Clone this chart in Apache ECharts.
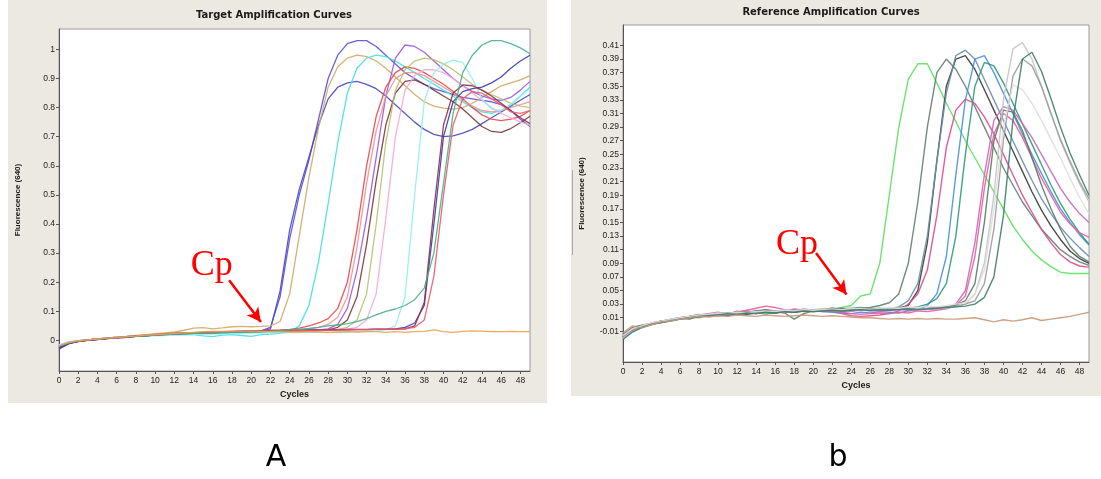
<!DOCTYPE html>
<html>
<head>
<meta charset="utf-8">
<script src="https://cdn.jsdelivr.net/npm/echarts@6/dist/echarts.min.js"></script>
<style>
html,body{margin:0;padding:0;background:#fff;}
#main{width:1101px;height:479px;}
</style>
</head>
<body>
<div id="main"></div>
<script>
// ---------- DATA ----------
const cycles = [0,1,2,3,4,5,6,7,8,9,10,11,12,13,14,15,16,17,18,19,20,21,22,23,24,25,26,27,28,29,30,31,32,33,34,35,36,37,38,39,40,41,42,43,44,45,46,47,48,49];
const xTicks = [0,2,4,6,8,10,12,14,16,18,20,22,24,26,28,30,32,34,36,38,40,42,44,46,48];
const targetTicks = [0,0.1,0.2,0.3,0.4,0.5,0.6,0.7,0.8,0.9,1];
const refTicks = [-0.01,0.01,0.03,0.05,0.07,0.09,0.11,0.13,0.15,0.17,0.19,0.21,0.23,0.25,0.27,0.29,0.31,0.33,0.35,0.37,0.39,0.41];

// Target amplification curves (fluorescence per cycle)
const L1 = [-0.025,-0.010,-0.003,0.001,0.004,0.007,0.010,0.013,0.015,0.017,
0.020,0.022,0.023,0.025,0.026,0.027,0.028,0.029,0.030,0.031,
0.032,0.033,0.045,0.150,0.350,0.500,0.620,0.760,0.900,0.980,
1.020,1.030,1.030,1.010,0.980,0.950,0.920,0.900,0.880,0.865,
0.855,0.845,0.835,0.830,0.825,0.820,0.810,0.790,0.760,0.735];
const L2 = [-0.030,-0.012,-0.004,0.000,0.003,0.006,0.009,0.011,0.014,0.016,
0.018,0.020,0.022,0.024,0.025,0.026,0.027,0.028,0.029,0.030,
0.031,0.032,0.040,0.170,0.380,0.520,0.630,0.740,0.830,0.870,
0.885,0.890,0.880,0.865,0.840,0.810,0.780,0.750,0.725,0.708,
0.700,0.703,0.712,0.725,0.745,0.765,0.785,0.805,0.825,0.845];
const L3 = [-0.020,-0.008,-0.002,0.002,0.005,0.008,0.011,0.014,0.017,0.020,
0.023,0.026,0.029,0.035,0.042,0.044,0.040,0.043,0.047,0.048,
0.047,0.048,0.050,0.065,0.160,0.360,0.560,0.730,0.870,0.940,
0.970,0.980,0.975,0.960,0.935,0.905,0.875,0.845,0.820,0.805,
0.798,0.795,0.800,0.815,0.835,0.855,0.875,0.885,0.895,0.910];
const L4 = [-0.015,-0.006,-0.001,0.002,0.005,0.008,0.010,0.012,0.014,0.016,
0.018,0.019,0.020,0.021,0.020,0.016,0.013,0.018,0.020,0.017,
0.014,0.020,0.022,0.024,0.030,0.050,0.120,0.270,0.470,0.680,
0.850,0.935,0.970,0.980,0.975,0.960,0.940,0.920,0.900,0.880,
0.860,0.840,0.820,0.800,0.785,0.780,0.790,0.810,0.840,0.870];
const L5 = [-0.020,-0.009,-0.003,0.001,0.004,0.007,0.010,0.012,0.015,0.017,
0.020,0.022,0.024,0.025,0.026,0.027,0.028,0.029,0.030,0.031,
0.032,0.033,0.033,0.034,0.034,0.035,0.035,0.036,0.040,0.055,
0.110,0.240,0.420,0.630,0.840,0.970,1.015,1.010,0.990,0.960,
0.930,0.900,0.875,0.855,0.840,0.830,0.825,0.835,0.860,0.890];
const L6 = [-0.020,-0.008,-0.002,0.002,0.005,0.008,0.011,0.013,0.016,0.018,
0.021,0.023,0.025,0.026,0.027,0.028,0.029,0.030,0.031,0.032,
0.033,0.034,0.035,0.036,0.038,0.042,0.050,0.060,0.075,0.110,
0.200,0.380,0.600,0.770,0.870,0.920,0.940,0.935,0.920,0.900,
0.880,0.855,0.830,0.800,0.775,0.760,0.755,0.760,0.770,0.790];
const L7 = [-0.018,-0.007,-0.002,0.002,0.005,0.008,0.011,0.013,0.016,0.018,
0.020,0.022,0.024,0.025,0.026,0.027,0.028,0.029,0.030,0.031,
0.032,0.033,0.034,0.035,0.036,0.038,0.040,0.045,0.055,0.080,
0.150,0.320,0.540,0.720,0.840,0.900,0.920,0.920,0.910,0.890,
0.870,0.850,0.825,0.805,0.790,0.785,0.790,0.800,0.810,0.820];
const L8 = [-0.022,-0.009,-0.003,0.001,0.004,0.007,0.010,0.012,0.015,0.017,
0.019,0.021,0.023,0.024,0.025,0.026,0.026,0.027,0.027,0.028,
0.028,0.029,0.030,0.030,0.031,0.032,0.033,0.034,0.036,0.045,
0.070,0.150,0.330,0.550,0.740,0.850,0.890,0.895,0.880,0.860,
0.840,0.820,0.795,0.765,0.735,0.718,0.715,0.728,0.748,0.770];
const L9 = [-0.020,-0.008,-0.002,0.002,0.005,0.008,0.010,0.013,0.015,0.018,
0.020,0.021,0.023,0.024,0.025,0.026,0.026,0.027,0.028,0.028,
0.029,0.030,0.030,0.031,0.031,0.032,0.033,0.034,0.035,0.038,
0.045,0.070,0.160,0.400,0.680,0.860,0.930,0.960,0.970,0.965,
0.950,0.930,0.905,0.880,0.860,0.845,0.830,0.815,0.805,0.800];
const L10 = [-0.018,-0.007,-0.001,0.002,0.005,0.008,0.011,0.013,0.016,0.018,
0.020,0.022,0.024,0.025,0.026,0.027,0.028,0.029,0.030,0.030,
0.031,0.032,0.033,0.033,0.034,0.034,0.035,0.035,0.036,0.037,
0.039,0.045,0.070,0.160,0.420,0.700,0.860,0.910,0.930,0.930,
0.920,0.900,0.875,0.850,0.825,0.800,0.780,0.765,0.750,0.740];
const L11 = [-0.015,-0.006,-0.001,0.002,0.005,0.007,0.009,0.011,0.013,0.015,
0.016,0.017,0.018,0.019,0.020,0.021,0.022,0.023,0.023,0.024,
0.025,0.025,0.026,0.026,0.027,0.027,0.028,0.028,0.028,0.027,
0.028,0.030,0.031,0.033,0.036,0.050,0.150,0.500,0.820,0.920,
0.950,0.963,0.955,0.900,0.830,0.795,0.790,0.810,0.840,0.865];
const L12 = [-0.025,-0.010,-0.003,0.001,0.004,0.007,0.009,0.012,0.014,0.016,
0.019,0.021,0.023,0.025,0.026,0.027,0.028,0.029,0.030,0.031,
0.032,0.033,0.034,0.034,0.035,0.035,0.036,0.036,0.037,0.037,
0.038,0.038,0.038,0.039,0.039,0.040,0.045,0.060,0.120,0.400,
0.700,0.820,0.855,0.865,0.870,0.885,0.905,0.935,0.960,0.980];
const L13 = [-0.022,-0.009,-0.003,0.001,0.004,0.006,0.009,0.011,0.014,0.016,
0.018,0.020,0.022,0.023,0.024,0.025,0.026,0.027,0.028,0.029,
0.030,0.031,0.032,0.033,0.033,0.034,0.034,0.035,0.035,0.036,
0.036,0.037,0.037,0.038,0.038,0.039,0.040,0.050,0.130,0.450,
0.740,0.850,0.878,0.875,0.860,0.840,0.815,0.790,0.765,0.745];
const L14 = [-0.020,-0.008,-0.002,0.002,0.005,0.008,0.010,0.013,0.015,0.017,
0.019,0.021,0.023,0.024,0.025,0.026,0.027,0.028,0.029,0.030,
0.031,0.032,0.032,0.033,0.033,0.034,0.034,0.035,0.035,0.036,
0.036,0.037,0.037,0.038,0.038,0.039,0.040,0.045,0.070,0.220,
0.500,0.740,0.830,0.855,0.850,0.830,0.810,0.785,0.780,0.790];
const L15 = [-0.020,-0.008,-0.002,0.002,0.005,0.007,0.010,0.012,0.014,0.016,
0.018,0.020,0.022,0.023,0.024,0.025,0.026,0.027,0.028,0.029,
0.029,0.030,0.032,0.034,0.036,0.038,0.041,0.045,0.050,0.053,
0.058,0.065,0.075,0.088,0.100,0.108,0.120,0.140,0.180,0.300,
0.540,0.780,0.920,0.980,1.015,1.030,1.030,1.020,1.005,0.985];
const L16 = [-0.018,-0.007,-0.001,0.002,0.005,0.008,0.010,0.013,0.015,0.018,
0.020,0.022,0.024,0.026,0.028,0.030,0.031,0.031,0.032,0.032,
0.032,0.031,0.030,0.030,0.029,0.029,0.030,0.029,0.028,0.029,
0.030,0.029,0.030,0.030,0.028,0.030,0.028,0.030,0.031,0.036,
0.030,0.028,0.031,0.033,0.032,0.030,0.030,0.031,0.030,0.030];

// Reference amplification curves
const R1 = [-0.020,-0.010,-0.004,0.000,0.004,0.007,0.009,0.011,0.010,0.013,
0.015,0.014,0.020,0.016,0.018,0.015,0.019,0.020,0.021,0.019,
0.022,0.023,0.022,0.025,0.028,0.042,0.045,0.090,0.190,0.290,
0.360,0.383,0.383,0.355,0.325,0.298,0.270,0.245,0.220,0.195,
0.170,0.145,0.125,0.108,0.095,0.085,0.077,0.075,0.075,0.075];
const R2 = [-0.015,-0.006,-0.004,0.001,0.004,0.006,0.008,0.012,0.014,0.012,
0.016,0.017,0.015,0.019,0.016,0.020,0.018,0.021,0.019,0.020,
0.022,0.020,0.023,0.024,0.022,0.024,0.025,0.028,0.032,0.045,
0.090,0.180,0.290,0.370,0.390,0.375,0.350,0.320,0.290,0.260,
0.230,0.205,0.180,0.160,0.140,0.125,0.110,0.100,0.092,0.087];
const R3 = [-0.018,-0.008,-0.003,0.001,0.003,0.006,0.009,0.010,0.012,0.014,
0.013,0.015,0.016,0.015,0.017,0.018,0.017,0.019,0.018,0.020,
0.019,0.020,0.021,0.020,0.021,0.022,0.021,0.022,0.022,0.024,
0.028,0.050,0.120,0.240,0.350,0.390,0.395,0.375,0.345,0.315,
0.285,0.255,0.225,0.195,0.168,0.145,0.125,0.108,0.097,0.090];
const R4 = [-0.016,-0.007,-0.003,0.002,0.004,0.007,0.009,0.011,0.013,0.014,
0.015,0.016,0.017,0.016,0.018,0.019,0.018,0.020,0.019,0.021,
0.020,0.021,0.020,0.021,0.020,0.022,0.020,0.021,0.023,0.026,
0.035,0.060,0.130,0.240,0.340,0.395,0.403,0.390,0.360,0.330,
0.300,0.270,0.240,0.212,0.185,0.163,0.143,0.127,0.113,0.100];
const R5 = [-0.020,-0.010,-0.003,0.001,0.004,0.007,0.009,0.012,0.011,0.014,
0.016,0.013,0.017,0.018,0.016,0.019,0.020,0.018,0.021,0.020,
0.022,0.020,0.019,0.016,0.013,0.012,0.013,0.014,0.016,0.020,
0.030,0.045,0.080,0.160,0.260,0.315,0.331,0.325,0.305,0.280,
0.250,0.220,0.190,0.165,0.140,0.120,0.103,0.092,0.086,0.084];
const R6 = [-0.017,-0.008,-0.002,0.002,0.004,0.008,0.010,0.011,0.014,0.013,
0.015,0.017,0.016,0.018,0.017,0.019,0.018,0.020,0.019,0.021,
0.020,0.019,0.018,0.017,0.016,0.018,0.017,0.019,0.018,0.017,
0.020,0.022,0.028,0.045,0.100,0.220,0.330,0.390,0.395,0.370,
0.340,0.310,0.280,0.250,0.222,0.195,0.170,0.150,0.132,0.117];
const R7 = [-0.014,-0.007,-0.002,0.002,0.005,0.007,0.010,0.012,0.015,0.013,
0.017,0.016,0.019,0.017,0.020,0.018,0.017,0.021,0.019,0.020,
0.022,0.021,0.020,0.022,0.021,0.023,0.022,0.021,0.023,0.022,
0.024,0.026,0.030,0.038,0.060,0.130,0.250,0.350,0.385,0.380,
0.355,0.325,0.295,0.265,0.235,0.205,0.178,0.155,0.135,0.118];
const R8 = [-0.020,-0.009,-0.004,0.001,0.003,0.006,0.008,0.012,0.014,0.016,
0.018,0.015,0.019,0.020,0.018,0.022,0.020,0.019,0.023,0.021,
0.020,0.022,0.024,0.022,0.020,0.021,0.022,0.020,0.021,0.022,
0.021,0.022,0.022,0.023,0.025,0.030,0.050,0.120,0.220,0.300,
0.320,0.315,0.295,0.275,0.250,0.225,0.200,0.180,0.163,0.150];
const R9 = [-0.019,-0.008,-0.002,0.002,0.005,0.007,0.010,0.011,0.013,0.015,
0.014,0.016,0.018,0.021,0.024,0.027,0.025,0.022,0.020,0.023,
0.021,0.019,0.020,0.018,0.016,0.015,0.016,0.017,0.016,0.018,
0.017,0.020,0.019,0.021,0.023,0.028,0.042,0.100,0.200,0.280,
0.310,0.300,0.275,0.245,0.215,0.190,0.165,0.148,0.135,0.128];
const R10 = [-0.015,-0.004,-0.001,0.002,0.005,0.007,0.009,0.008,0.012,0.014,
0.015,0.013,0.016,0.018,0.020,0.022,0.019,0.017,0.008,0.016,
0.020,0.022,0.024,0.023,0.024,0.025,0.023,0.024,0.022,0.023,
0.022,0.024,0.023,0.025,0.026,0.028,0.035,0.060,0.150,0.270,
0.315,0.312,0.285,0.245,0.205,0.170,0.140,0.115,0.100,0.092];
const R11 = [-0.020,-0.010,-0.004,0.000,0.003,0.006,0.008,0.011,0.013,0.015,
0.016,0.017,0.016,0.018,0.019,0.018,0.020,0.021,0.020,0.022,
0.021,0.023,0.022,0.021,0.023,0.024,0.023,0.022,0.024,0.023,
0.025,0.024,0.023,0.025,0.024,0.026,0.030,0.045,0.090,0.190,
0.330,0.405,0.414,0.390,0.350,0.310,0.270,0.237,0.207,0.180];
const R12 = [-0.017,-0.007,-0.002,0.002,0.005,0.007,0.010,0.012,0.013,0.015,
0.016,0.015,0.017,0.018,0.017,0.019,0.020,0.018,0.020,0.021,
0.020,0.022,0.021,0.020,0.022,0.021,0.023,0.022,0.023,0.024,
0.023,0.022,0.024,0.025,0.026,0.027,0.030,0.035,0.060,0.140,
0.270,0.365,0.390,0.380,0.350,0.310,0.272,0.240,0.210,0.185];
const R13 = [-0.016,-0.006,-0.002,0.003,0.005,0.008,0.010,0.012,0.014,0.015,
0.017,0.016,0.018,0.017,0.019,0.020,0.019,0.021,0.020,0.022,
0.021,0.022,0.023,0.022,0.024,0.023,0.022,0.024,0.025,0.024,
0.026,0.025,0.027,0.026,0.028,0.030,0.032,0.045,0.080,0.170,
0.290,0.352,0.345,0.325,0.300,0.272,0.245,0.215,0.187,0.162];
const R14 = [-0.022,-0.011,-0.004,0.000,0.003,0.005,0.008,0.010,0.012,0.013,
0.014,0.016,0.015,0.017,0.016,0.018,0.017,0.019,0.018,0.020,
0.019,0.020,0.021,0.020,0.021,0.022,0.021,0.022,0.021,0.022,
0.023,0.022,0.023,0.024,0.025,0.026,0.027,0.030,0.040,0.070,
0.160,0.300,0.390,0.400,0.372,0.332,0.290,0.252,0.220,0.190];
const R15 = [-0.012,-0.002,-0.005,0.000,0.004,0.005,0.008,0.010,0.012,0.011,
0.013,0.012,0.014,0.013,0.012,0.014,0.013,0.012,0.013,0.014,
0.013,0.012,0.013,0.012,0.011,0.010,0.010,0.009,0.008,0.009,
0.008,0.009,0.008,0.009,0.008,0.008,0.009,0.010,0.007,0.004,
0.007,0.005,0.007,0.010,0.006,0.008,0.010,0.012,0.015,0.018];

// Cp annotations in data units: [textCycle, textValue, arrowFromCycle, arrowFromValue, arrowToCycle, arrowToValue]
const cpTarget = [15.9, 0.259, 17.7, 0.207, 21.0, 0.063];
const cpReference = [18.3, 0.117, 20.3, 0.105, 23.5, 0.044];

// ---------- STYLE ----------
const targetSeries = [L1,L2,L3,L4,L5,L6,L7,L8,L9,L10,L11,L12,L13,L14,L15,L16];
const targetColors = ['#5a50d8','#4848c0','#d0a868','#40e0e0','#9858e8','#e84848','#f49090','#7a3838','#b8c070','#f4a8d8','#90f0f0','#3c3ca8','#8a3050','#f05868','#48b088','#f0a050'];
const refSeries = [R1,R2,R3,R4,R5,R6,R7,R8,R9,R10,R11,R12,R13,R14,R15];
const refColors = ['#5fe05f','#5f7f6f','#3a3a3a','#6a8fae','#e04a8c','#4a8ee0','#2e9a7a','#c868c0','#e8609a','#5a7a68','#c4c4c4','#9c9c9c','#dedede','#3d7d6d','#c8987a'];

function pairs(vals){ return vals.map((v,i)=>[cycles[i], v]); }

const chart = echarts.init(document.getElementById('main'), null, {renderer:'canvas'});

const labelFont = {fontSize: 8.5, color:'#222', fontFamily:'Liberation Sans, Arial, sans-serif'};
const nameFont = {fontSize: 8, fontWeight:'bold', color:'#1a1a1a', fontFamily:'Liberation Sans, Arial, sans-serif'};

function xAxisCfg(gi, gap){
  return {
    gridIndex: gi, type:'value', min:0, max:49,
    name:'Cycles', nameLocation:'middle', nameGap:gap,
    nameTextStyle: Object.assign({}, nameFont, {fontSize:9}),
    axisLine:{onZero:false, lineStyle:{color:'#555', width:1}},
    axisTick:{show:true, customValues:xTicks, length:3, lineStyle:{color:'#555'}},
    axisLabel: Object.assign({customValues:xTicks, margin:5}, labelFont),
    splitLine:{show:false}
  };
}
function yAxisCfg(gi, mn, mx, ticks, fmt){
  return {
    gridIndex: gi, type:'value', min:mn, max:mx,
    name:'Fluorescence (640)', nameLocation:'middle', nameGap:37, nameRotate:90,
    nameTextStyle: nameFont,
    axisLine:{onZero:false, lineStyle:{color:'#555', width:1}},
    axisTick:{show:true, customValues:ticks, length:3, lineStyle:{color:'#555'}},
    axisLabel: Object.assign({customValues:ticks, margin:4, formatter:fmt}, labelFont),
    splitLine:{show:false}
  };
}

const series = [];
targetSeries.forEach((d,i)=>{
  series.push({type:'line', xAxisIndex:0, yAxisIndex:0, data:pairs(d), showSymbol:false, symbol:'none',
    lineStyle:{width:1.3, color:targetColors[i], opacity:0.9}, itemStyle:{color:targetColors[i]}, silent:true, z:2});
});
refSeries.forEach((d,i)=>{
  series.push({type:'line', xAxisIndex:1, yAxisIndex:1, data:pairs(d), showSymbol:false, symbol:'none',
    lineStyle:{width:1.4, color:refColors[i], opacity:0.9}, itemStyle:{color:refColors[i]}, silent:true, z:2});
});

function cpMarks(cp){
  return {
    markLine:{silent:true, symbol:['none','arrow'], symbolSize:[11,14], animation:false,
      lineStyle:{color:'#ff0000', width:2.5, type:'solid'}, label:{show:false},
      data:[[{coord:[cp[2],cp[3]]},{coord:[cp[4],cp[5]]}]]},
    markPoint:{silent:true, symbol:'circle', symbolSize:1, animation:false,
      itemStyle:{color:'rgba(0,0,0,0)'},
      label:{show:true, position:'inside', formatter:'Cp', color:'#ff0000', fontSize:36,
        fontFamily:'Liberation Serif, DejaVu Serif, serif'},
      data:[{coord:[cp[0],cp[1]]}]}
  };
}
series.push(Object.assign({type:'line', xAxisIndex:0, yAxisIndex:0, data:[], z:5}, cpMarks(cpTarget)));
series.push(Object.assign({type:'line', xAxisIndex:1, yAxisIndex:1, data:[], z:5}, cpMarks(cpReference)));

const titleFont = 'bold 10px "DejaVu Sans", Verdana, sans-serif';

const option = {
  animation:false,
  backgroundColor:'#ffffff',
  graphic:[
    {type:'rect', z:-10, shape:{x:8, y:0, width:539, height:403}, style:{fill:'#ece9e2'}},
    {type:'rect', z:-10, shape:{x:571, y:0, width:530, height:396}, style:{fill:'#ece9e2'}},
    {type:'line', z:-9, shape:{x1:572.5, y1:170, x2:572.5, y2:255}, style:{stroke:'#a8a8a8', lineWidth:1}},
    {type:'text', z:10, x:274, y:15, style:{text:'Target Amplification Curves', font:titleFont, fill:'#1a1a1a', textAlign:'center', textVerticalAlign:'middle'}},
    {type:'text', z:10, x:831, y:12, style:{text:'Reference Amplification Curves', font:titleFont, fill:'#1a1a1a', textAlign:'center', textVerticalAlign:'middle'}},
    {type:'text', z:10, x:276, y:458, style:{text:'A', font:'30px "DejaVu Sans", sans-serif', fill:'#000', textAlign:'center', textVerticalAlign:'middle'}},
    {type:'text', z:10, x:838, y:458, style:{text:'b', font:'30px "DejaVu Sans", sans-serif', fill:'#000', textAlign:'center', textVerticalAlign:'middle'}}
  ],
  grid:[
    {left:59, top:29, width:471, height:342, show:true, backgroundColor:'#ffffff', borderColor:'#9a9a9a', borderWidth:1},
    {left:623, top:25, width:466, height:337, show:true, backgroundColor:'#ffffff', borderColor:'#9a9a9a', borderWidth:1}
  ],
  xAxis:[ xAxisCfg(0, 15), xAxisCfg(1, 16) ],
  yAxis:[
    yAxisCfg(0, -0.105, 1.07, targetTicks, v => String(Math.round(v*10)/10)),
    yAxisCfg(1, -0.055, 0.44, refTicks, v => (Math.round(v*100)/100).toFixed(2))
  ],
  series: series
};
chart.setOption(option);
</script>
</body>
</html>
